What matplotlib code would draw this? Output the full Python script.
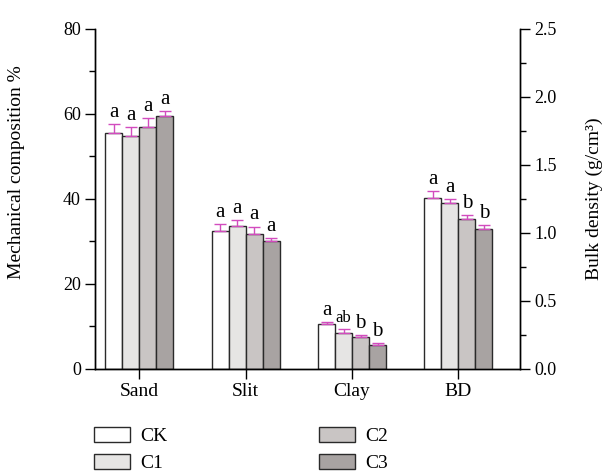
import numpy as np
import matplotlib
matplotlib.use("Agg")
import matplotlib.pyplot as plt

plt.rcParams['font.family'] = ['Liberation Serif', 'DejaVu Serif']
plt.rcParams['font.size'] = 13

# data
groups = ["Sand", "Slit", "Clay", "BD"]
treatments = ["CK", "C1", "C2", "C3"]
colors = ["#ffffff", "#e6e5e4", "#c9c5c4", "#a8a3a2"]

# mechanical composition (%), rows = treatments, cols = Sand, Slit, Clay
comp = [[55.4, 32.4, 10.5],
        [54.7, 33.7, 8.5],
        [56.9, 31.8, 7.4],
        [59.4, 30.0, 5.7]]
comp_err = [[2.2, 1.7, 0.6],
            [2.3, 1.4, 1.0],
            [2.2, 1.7, 0.5],
            [1.2, 0.8, 0.3]]
# bulk density (g/cm3)
bd = [1.26, 1.22, 1.10, 1.03]
bd_err = [0.05, 0.03, 0.03, 0.03]

comp_letters = [["a", "a", "a"],
                ["a", "a", "ab"],
                ["a", "a", "b"],
                ["a", "a", "b"]]
bd_letters = ["a", "a", "b", "b"]

fig = plt.figure(figsize=(6.04, 4.73), dpi=100)
ax = fig.add_axes([0.157, 0.220, 0.704, 0.719])
ax2 = ax.twinx()

x = np.arange(1, 5)
w = 0.16
err_color = "#d24cbe"
edge = "#2a2a2a"

for i, t in enumerate(treatments):
    off = (i - 1.5) * w
    vals = comp[i]
    errs = comp_err[i]
    ax.bar(x[:3] + off, vals, w, color=colors[i], edgecolor=edge, linewidth=1.0, zorder=2)
    ax.errorbar(x[:3] + off, vals, yerr=[np.zeros(3), errs], fmt="none",
                ecolor=err_color, elinewidth=1.0, capsize=4.5, capthick=1.0, zorder=3)
    for j in range(3):
        lab = comp_letters[i][j]
        fs = 12 if len(lab) > 1 else 15
        ax.text(x[j] + off, vals[j] + errs[j] + 0.5, lab, ha="center", va="bottom", fontsize=fs)
    ax2.bar(x[3] + off, bd[i], w, color=colors[i], edgecolor=edge, linewidth=1.0, zorder=2)
    ax2.errorbar(x[3] + off, bd[i], yerr=[[0], [bd_err[i]]], fmt="none",
                 ecolor=err_color, elinewidth=1.0, capsize=4.5, capthick=1.0, zorder=3)
    ax2.text(x[3] + off, bd[i] + bd_err[i] + 0.015, bd_letters[i], ha="center", va="bottom", fontsize=15)

ax.set_xlim(0.58, 4.58)
ax.set_ylim(0, 80)
ax2.set_ylim(0, 2.5)
ax.set_xticks(x)
ax.set_xticklabels(groups, fontsize=14)
ax.set_yticks(np.arange(0, 81, 20))
ax.set_yticks(np.arange(10, 80, 20), minor=True)
ax2.set_yticks(np.arange(0, 2.51, 0.5))
ax2.set_yticks(np.arange(0.25, 2.5, 0.5), minor=True)
ax2.set_yticklabels(["%.1f" % v for v in np.arange(0, 2.51, 0.5)])

for a in (ax, ax2):
    a.spines["top"].set_visible(False)
    for s in a.spines.values():
        s.set_linewidth(1.0)
    a.tick_params(direction="out", length=7, width=1.0, labelsize=13, pad=3)
    a.tick_params(which="minor", direction="out", length=4.5, width=1.0)
ax.tick_params(axis="x", labelsize=14)

ax.set_ylabel("Mechanical composition %", fontsize=14)
ax.yaxis.set_label_coords(-0.165, 0.58)
ax2.set_ylabel("Bulk density (g/cm³)", fontsize=14)
ax2.yaxis.set_label_coords(1.155, 0.5)

handles = [plt.Rectangle((0, 0), 1, 1, facecolor=c, edgecolor=edge, linewidth=1.0) for c in colors]
fig.legend(handles, treatments, ncol=2, loc="upper left", bbox_to_anchor=(0.155, 0.097),
           frameon=False, fontsize=14, handlelength=1.85, handleheight=0.8,
           columnspacing=7.8, labelspacing=0.45, handletextpad=0.55,
           borderpad=0, borderaxespad=0)

fig.savefig("out.png", dpi=100)
